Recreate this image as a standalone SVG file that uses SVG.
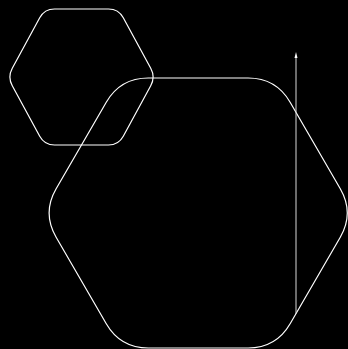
<svg xmlns="http://www.w3.org/2000/svg" width="348" height="349" viewBox="0 0 348 349">
  <style>
    .bg { fill: #000000; }
    .hex { fill: none; stroke: #ffffff; stroke-width: 1.2; }
    .conn { fill: none; stroke: #d8d8d8; stroke-width: 1; }
    .head { fill: #ffffff; stroke: none; }
  </style>
  <rect class="bg" x="0" y="0" width="348" height="349"/>
  <g id="hexagon-small">
    <path class="hex" d="M 54.5,9 L 108.5,9 Q 118.5,9 123.28,17.78 L 150.72,68.22 Q 155.5,77 150.72,85.78 L 123.28,136.22 Q 118.5,145 108.5,145 L 54.5,145 Q 44.5,145 39.72,136.22 L 12.28,85.78 Q 7.5,77 12.28,68.22 L 39.72,17.78 Q 44.5,9 54.5,9 Z"/>
  </g>
  <g id="hexagon-large">
    <path class="hex" d="M 148.3,78 L 248.1,78 Q 276.1,78 290.13,102.23 L 340.27,188.77 Q 354.3,213 340.27,237.23 L 290.13,323.77 Q 276.1,348 248.1,348 L 148.3,348 Q 120.3,348 106.27,323.77 L 56.13,237.23 Q 42.1,213 56.13,188.77 L 106.27,102.23 Q 120.3,78 148.3,78 Z"/>
  </g>
  <g id="connectors">
    <line class="conn" x1="296" y1="314" x2="296" y2="56"/>
    <polygon class="head" points="296,52 294.5,58 297.5,58"/>
  </g>
</svg>
